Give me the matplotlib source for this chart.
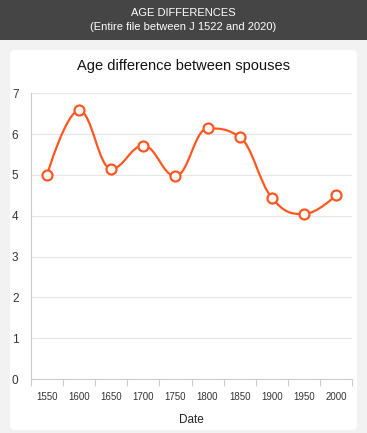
import matplotlib
matplotlib.use("Agg")
import matplotlib.pyplot as plt
from matplotlib.path import Path
from matplotlib.patches import PathPatch, FancyBboxPatch, Rectangle

plt.rcParams['font.family'] = ['Liberation Sans', 'DejaVu Sans']

categories = ["1550", "1600", "1650", "1700", "1750", "1800", "1850", "1900", "1950", "2000"]
values = [5.0, 6.58, 5.15, 5.72, 4.97, 6.14, 5.93, 4.44, 4.04, 4.50]
yticks = [0, 1, 2, 3, 4, 5, 6, 7]

W, H = 367, 433
fig = plt.figure(figsize=(W / 100, H / 100), dpi=100)
fig.patch.set_facecolor('#f2f2f2')

# header
fig.add_artist(Rectangle((0, 1 - 40 / H), 1, 40 / H, transform=fig.transFigure,
                         facecolor='#454545', edgecolor='none', zorder=0))
fig.text(0.5, 1 - 13.5 / H, "AGE DIFFERENCES", color='white', ha='center', va='center', fontsize=8)
fig.text(0.5, 1 - 27 / H, "(Entire file between J 1522 and 2020)", color='white', ha='center', va='center', fontsize=8)

# card
fig.add_artist(FancyBboxPatch((10 / W, 1 - 430 / H), 347 / W, 380 / H,
                              boxstyle="round,pad=0,rounding_size=0.012",
                              transform=fig.transFigure, facecolor='white',
                              edgecolor='none', zorder=0))

fig.text(0.5, 1 - 66 / H, "Age difference between spouses", ha='center', va='center',
         fontsize=10.5, color='#111111')

ax = fig.add_axes([31 / W, 1 - 379 / H, (352 - 31) / W, (379 - 93.3) / H])
ax.set_facecolor('none')

x = list(range(len(values)))

# Highcharts-like spline
def spline_path(xs, ys, smoothing=1.5):
    n = len(xs)
    denom = smoothing + 1
    lc = [None] * n
    rc = [None] * n
    for i in range(n):
        if 0 < i < n - 1:
            px, py = xs[i], ys[i]
            lx, ly = xs[i - 1], ys[i - 1]
            nx, ny = xs[i + 1], ys[i + 1]
            lcx = (smoothing * px + lx) / denom
            lcy = (smoothing * py + ly) / denom
            rcx = (smoothing * px + nx) / denom
            rcy = (smoothing * py + ny) / denom
            if rcx != lcx:
                corr = ((rcy - lcy) * (rcx - px)) / (rcx - lcx) + py - rcy
                lcy += corr
                rcy += corr
            if lcy > ly and lcy > py:
                lcy = max(ly, py)
                rcy = 2 * py - lcy
            elif lcy < ly and lcy < py:
                lcy = min(ly, py)
                rcy = 2 * py - lcy
            if rcy > ny and rcy > py:
                rcy = max(ny, py)
                lcy = 2 * py - rcy
            elif rcy < ny and rcy < py:
                rcy = min(ny, py)
                lcy = 2 * py - rcy
            lc[i] = (lcx, lcy)
            rc[i] = (rcx, rcy)
        else:
            lc[i] = (xs[i], ys[i])
            rc[i] = (xs[i], ys[i])
    verts = [(xs[0], ys[0])]
    codes = [Path.MOVETO]
    for i in range(1, n):
        verts += [rc[i - 1], lc[i], (xs[i], ys[i])]
        codes += [Path.CURVE4] * 3
    return Path(verts, codes)

line_color = '#ff5722'
ax.add_patch(PathPatch(spline_path(x, values), facecolor='none', edgecolor=line_color,
                       lw=1.6, zorder=3, capstyle='round', joinstyle='round'))
ax.plot(x, values, linestyle='none', marker='o', markersize=7.2, markerfacecolor='white',
        markeredgecolor=line_color, markeredgewidth=1.6, zorder=4)

ax.set_xlim(-0.5, len(values) - 0.5)
ax.set_ylim(0, 7)
ax.set_yticks(yticks)
ax.set_yticklabels([str(v) for v in yticks])
ax.set_xticks(x)
ax.set_xticklabels(categories)
ax.set_xticks([i - 0.5 for i in range(len(values) + 1)], minor=True)
ax.tick_params(axis='x', which='major', length=0, pad=9, labelsize=7, labelcolor='#333333')
ax.tick_params(axis='x', which='minor', length=5, color='#cccccc', width=0.8)
ax.tick_params(axis='y', length=0, pad=9, labelsize=8.5, labelcolor='#333333')
ax.grid(axis='y', color='#e6e6e6', lw=0.8)
ax.set_axisbelow(True)
for s in ['top', 'right']:
    ax.spines[s].set_visible(False)
for s in ['left', 'bottom']:
    ax.spines[s].set_color('#cccccc')
    ax.spines[s].set_linewidth(0.8)
ax.set_xlabel("Date", fontsize=8.5, color='#222222', labelpad=9)

fig.savefig("out.png", dpi=100, facecolor=fig.get_facecolor())
